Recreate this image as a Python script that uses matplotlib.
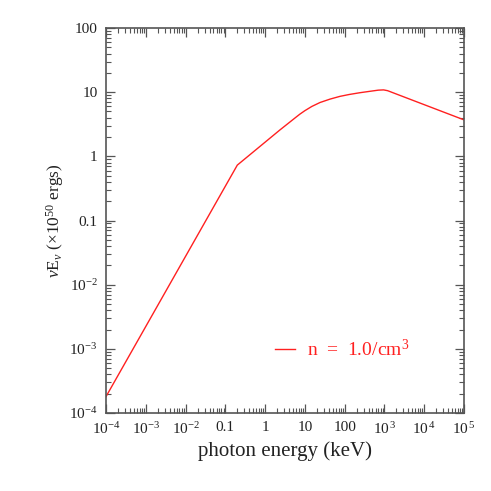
import matplotlib
matplotlib.use("Agg")
import matplotlib.pyplot as plt
from matplotlib.ticker import FixedLocator, FixedFormatter, LogLocator, NullFormatter

plt.rcParams['font.family'] = ['Liberation Serif', 'DejaVu Serif']
plt.rcParams['mathtext.fontset'] = 'custom'
plt.rcParams['mathtext.rm'] = 'Liberation Serif'
plt.rcParams['mathtext.it'] = 'Liberation Serif:italic'

# data
energy_kev = [1e-4, 0.2, 2.36, 6.2, 7.5, 10, 15, 24, 43, 76, 130, 240, 450, 700, 950, 1200, 1e5]
nu_e_nu = [1.8e-4, 0.73, 2.58, 4.15, 4.55, 5.15, 6.0, 6.9, 7.8, 8.6, 9.2, 9.8, 10.35, 10.75, 10.85, 10.55, 3.7]
series_label = r'n  =  1.0/cm$^3$'

x_ticks = [1e-4, 1e-3, 1e-2, 0.1, 1, 10, 100, 1e3, 1e4, 1e5]
x_tick_labels = [r'$10^{-4}$', r'$10^{-3}$', r'$10^{-2}$', '0.1', '1', '10', '100',
                 r'$10^{\,3}$', r'$10^{\,4}$', r'$10^{\,5}$']
y_ticks = [1e-4, 1e-3, 1e-2, 0.1, 1, 10, 100]
y_tick_labels = [r'$10^{-4}$', r'$10^{-3}$', r'$10^{-2}$', '0.1', '1', '10', '100']

fig = plt.figure(figsize=(4.91, 4.91), dpi=100)
ax = fig.add_axes([106/491, 1-413/491, (464-106)/491, (413-28)/491])

ax.plot(energy_kev, nu_e_nu, color='#ff2020', lw=1.0, label=series_label)

ax.set_xscale('log')
ax.set_yscale('log')
ax.set_xlim(1e-4, 1e5)
ax.set_ylim(1e-4, 100)

ax.xaxis.set_major_locator(FixedLocator(x_ticks))
ax.xaxis.set_major_formatter(FixedFormatter(x_tick_labels))
ax.yaxis.set_major_locator(FixedLocator(y_ticks))
ax.yaxis.set_major_formatter(FixedFormatter(y_tick_labels))
ax.xaxis.set_minor_locator(LogLocator(base=10, subs=range(2, 10), numticks=50))
ax.yaxis.set_minor_locator(LogLocator(base=10, subs=range(2, 10), numticks=50))
ax.xaxis.set_minor_formatter(NullFormatter())
ax.yaxis.set_minor_formatter(NullFormatter())

axcol = '#555555'
for s in ax.spines.values():
    s.set_color(axcol)
    s.set_linewidth(1.2)
ax.tick_params(which='both', direction='in', top=True, right=True, color=axcol,
               labelsize=11, labelcolor='#222222')
ax.tick_params(which='major', length=6.5, width=0.9)
ax.tick_params(which='minor', length=3.3, width=0.8)
ax.tick_params(axis='x', which='major', pad=6)
ax.tick_params(axis='y', which='major', pad=6)

ax.set_xlabel('photon energy (keV)', fontsize=15, color='#222222', labelpad=3)
ax.set_ylabel(r'$\nu$E$_\nu$ ($\times$10$^{50}$ ergs)', fontsize=12.5, color='#222222', labelpad=2)

leg = ax.legend(loc='center left', bbox_to_anchor=(0.422, 0.165), frameon=False,
                fontsize=14, handlelength=1.03, handletextpad=0.62, labelcolor='#ff2020')

fig.savefig('out.png', dpi=100)
